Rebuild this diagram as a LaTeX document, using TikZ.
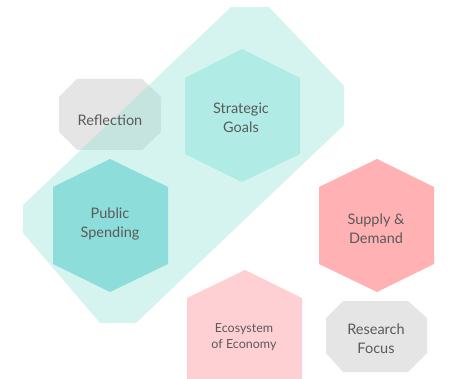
\documentclass[tikz,border=0pt]{standalone}
\usepackage{fontspec}
\setmainfont{Lato}
\definecolor{graybox}{HTML}{E5E5E5}
\definecolor{blobc}{RGB}{153,227,215}
\definecolor{sgc}{HTML}{B0ECE5}
\definecolor{psc}{HTML}{8DDDDA}
\definecolor{sdc}{HTML}{FFB1B3}
\definecolor{ecc}{HTML}{FFD0D3}
\definecolor{txt}{HTML}{5A5A5A}
\tikzset{
  lbl/.style={text=txt, align=center, font=\fontsize{14.5}{19}\selectfont, inner sep=0pt},
  lblsmall/.style={text=txt, align=center, font=\fontsize{12.5}{16}\selectfont, inner sep=0pt}
}
\begin{document}
\begin{tikzpicture}[x=1pt,y=-1pt]
\useasboundingbox (0,0) rectangle (449,379);
% Reflection octagon
\fill[graybox] (77,79) -- (142,79) -- (161,97) -- (161,132) -- (142,150) -- (77,150) -- (59,132) -- (59,97) -- cycle;
% teal blob
\fill[blobc, fill opacity=0.4] (231,7) -- (269,7) -- (344,86) -- (344,125) -- (136,323) -- (100,323) -- (23,233) -- (23,205) -- cycle;
\node[lbl] (refl) at (110,120) {Reflection};
% Strategic Goals hexagon
\fill[sgc] (242,49) -- (300,78) -- (300,154) -- (242,182) -- (185,154) -- (185,78) -- cycle;
\node[lbl] (sg) at (241,118) {Strategic\\Goals};
% Public Spending hexagon
\fill[psc] (110,159) -- (168,187) -- (168,264) -- (110,292) -- (53,264) -- (53,187) -- cycle;
\node[lbl] (ps) at (110,224) {Public\\Spending};
% Supply & Demand hexagon
\fill[sdc] (377,159) -- (434,187) -- (434,264) -- (377,292) -- (319,264) -- (319,187) -- cycle;
\node[lbl] (sd) at (376,229) {Supply \&\\Demand};
% Ecosystem of Economy house
\fill[ecc] (245,270) -- (302,298) -- (302,379) -- (187,379) -- (187,298) -- cycle;
\node[lblsmall] (eco) at (244,337) {Ecosystem\\of Economy};
% Research Focus octagon
\fill[graybox] (343,301) -- (408,301) -- (427,318) -- (427,353) -- (408,372) -- (343,372) -- (326,353) -- (326,318) -- cycle;
\node[lbl] (rf) at (376,339) {Research\\Focus};
\end{tikzpicture}
\end{document}
